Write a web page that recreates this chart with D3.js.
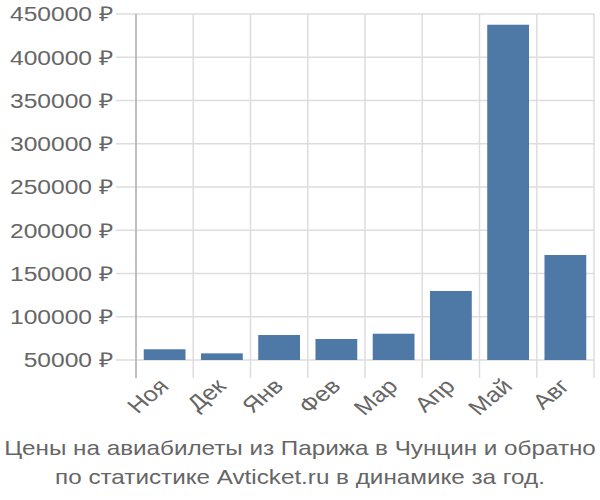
<!DOCTYPE html>
<html><head><meta charset="utf-8">
<script src="https://cdn.jsdelivr.net/npm/d3@7"></script>
<style>body{margin:0;background:#fff}</style>
</head><body>
<svg id="c" width="600" height="500"></svg>
<script>
const categories = ["Ноя","Дек","Янв","Фев","Мар","Апр","Май","Авг"];
const values = [62400, 57700, 78900, 74300, 80400, 129800, 437600, 171400];
const yTicks = [50000,100000,150000,200000,250000,300000,350000,400000,450000];
const titleLines = ["Цены на авиабилеты из Парижа в Чунцин и обратно","по статистике Avticket.ru в динамике за год."];

const svg = d3.select("#c");
const L = 136, R = 594, T = 14, B = 360;
const SX = 1.2;
const x = d3.scaleBand().domain(categories).range([L, R]).paddingInner(0.27).paddingOuter(0.135);
const y = d3.scaleLinear().domain([50000, 450000]).range([B, T]);
const font = "'Liberation Sans', Arial, sans-serif";
const tc = "#666";

// horizontal grid
svg.append("g").selectAll("line").data(yTicks).join("line")
  .attr("x1", L-20).attr("x2", R).attr("y1", d=>y(d)).attr("y2", d=>y(d))
  .attr("stroke", "#ddd").attr("stroke-width", 1.5);
// vertical grid at band boundaries
const bounds = categories.map(c => x(c) - x.step()*x.paddingInner()/2);
bounds.push(R);
svg.append("g").selectAll("line").data(bounds.slice(1)).join("line")
  .attr("x1", d=>d).attr("x2", d=>d).attr("y1", T).attr("y2", B+18)
  .attr("stroke", "#ddd").attr("stroke-width", 1.5);
// left axis line
svg.append("line").attr("x1", L).attr("x2", L).attr("y1", T).attr("y2", B+18)
  .attr("stroke", "#aaa").attr("stroke-width", 1.5);

// bars
svg.append("g").selectAll("rect").data(values).join("rect")
  .attr("x", (d,i)=>x(categories[i])).attr("width", x.bandwidth())
  .attr("y", d=>y(d)).attr("height", d=>y(50000)-y(d))
  .attr("fill", "#4e79a7");

// y labels
svg.append("g").selectAll("text").data(yTicks).join("text")
  .attr("transform", d=>`translate(113,${y(d)}) scale(${SX},1)`).attr("dy", "0.36em")
  .attr("text-anchor", "end").attr("font-family", font).attr("font-size", 20.5)
  .attr("fill", tc).text(d=>d + " ₽");

// x labels
svg.append("g").selectAll("text").data(categories).join("text")
  .attr("transform", d=>`translate(${x(d)+x.bandwidth()/2-7},${B+17}) scale(${SX},1) rotate(-45)`)
  .attr("text-anchor", "end").attr("dy", "0.7em")
  .attr("font-family", font).attr("font-size", 21).attr("fill", tc).text(d=>d);

// title
svg.append("g").selectAll("text").data(titleLines).join("text")
  .attr("transform", (d,i)=>`translate(300,${455+i*29}) scale(${SX},1)`).attr("text-anchor", "middle")
  .attr("font-family", font).attr("font-size", 20.2).attr("fill", tc).text(d=>d);
</script>
</body></html>
